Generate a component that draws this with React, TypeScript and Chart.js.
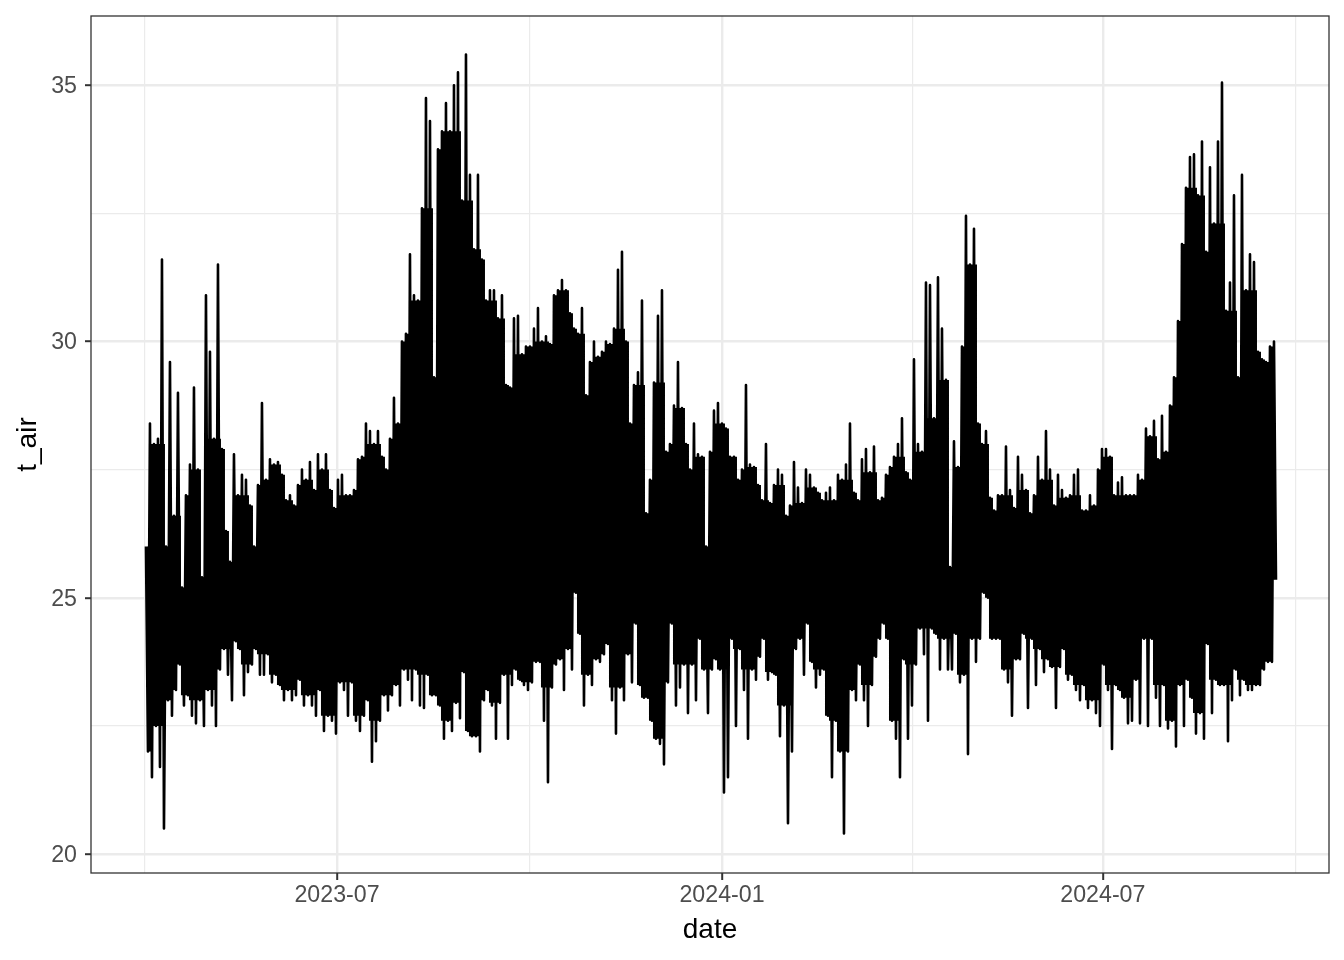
import React, { useEffect, useRef } from "react";
import { Chart, registerables } from "chart.js";

Chart.register(...registerables);

// Upper excursions of t_air
const peaksSpring2023 = [26.0,28.4,28.0,28.1,31.6,26.0,29.6,26.6,29.0,25.2,27.0,27.6,29.1,27.5,25.4,30.9,29.8,28.1,31.5,27.9,26.3,25.7,27.8,27.0,27.4,27.3,26.8,26.0,27.2,28.8,27.3,27.7,27.6,27.65,27.4,26.9,27.0,26.8,27.2,27.5,27.3,27.65,27.1,27.8,27.5,27.8,27.1,26.75];
const peaksSummer2023 = [27.3,27.4,27.0,27.0,27.1,27.7,27.75,28.4,28.25,28.0,28.25,27.75,27.5,28.1,28.9,28.4,30.0,30.15,31.7,30.9,30.8,32.6,34.75,34.3,29.3,33.75,34.1,34.65,34.1,35.0,35.25,32.75,35.6,33.25,31.8,33.25,31.6,30.8,31.0,31.0,30.45,30.9,29.15,29.1,30.45,30.5,29.75,29.9];
const peaksAutumn2023 = [29.9,30.25,30.65,30.0,30.1,29.95,30.9,31.0,31.2,31.0,30.55,30.25,30.15,30.65,28.95,29.6,30.0,29.7,29.8,30.0,29.95,30.25,31.4,31.75,30.0,28.4,29.15,29.4,30.8,26.65,27.3,29.2,30.5,31.0,27.85,28.0,28.75,29.6,28.7,28.0,27.5,28.4,27.8,27.75,26.0,27.85,28.65,28.8,28.4];
const peaksWinter2024 = [28.3,27.75,27.75,27.3,27.5,29.15,27.6,27.55,27.2,26.9,28.0,26.85,27.2,27.5,27.4,26.6,26.8,27.65,27.15,26.85,27.5,27.4,27.15,27.05,26.9,27.05,27.15,26.9,27.4,27.3,27.6,28.4,27.05,26.9,27.7,27.9,27.45,27.95,26.9,26.95,27.4,27.55,27.75,28.0,28.5,27.45,27.3,29.65,28.0];
const peaksSpring2024 = [27.85,31.15,31.1,28.5,31.25,30.25,29.25,25.6,28.05,27.55,29.9,32.45,31.5,32.2,28.4,28.0,28.25,26.95,26.7,27.0,27.0,27.95,27.1,26.75,27.75,27.4,27.1,26.65,27.0,27.75,27.3,28.25,27.5,26.8,27.4,27.1,26.95,27.0,27.4,27.5,26.7,26.7,27.0,26.8,27.5];
const peaksSummer2024 = [27.9,27.9,27.75,27.0,27.25,27.35,27.0,27.0,27.0,27.4,27.3,28.3,28.15,28.45,27.7,28.55,27.85,28.75,29.3,30.4,31.9,33.0,33.6,33.65,32.85,33.9,31.75,33.4,32.3,33.9,35.05,30.6,31.15,32.85,29.3,33.25,31.0,31.7,31.55,29.8,29.65,29.6,29.9,30.0];

// Lower excursions of t_air
const troughsSpring2023 = [22.0,21.5,22.5,21.7,20.5,23.0,22.7,23.2,23.7,22.9,23.1,22.7,22.55,23.0,22.5,23.2,22.9,22.5,23.6,24.0,23.5,23.0,24.15,24.0,23.1,23.55,23.7,24.0,23.5,23.5,23.9,23.35,23.5,23.3,23.0,23.2,23.0,23.1,23.4,22.9,23.1,22.9,22.7,23.2,22.4,22.7,22.6,22.35];
const troughsSummer2023 = [23.35,23.2,22.7,23.35,22.6,22.4,22.7,23.0,21.8,22.2,22.6,23.1,22.8,23.1,23.3,22.9,23.6,23.4,23.0,23.6,22.9,22.85,23.5,23.1,23.1,22.9,22.25,22.6,22.4,22.95,22.65,23.55,22.4,22.3,22.3,22.0,23.0,23.2,22.9,22.25,22.95,23.5,22.25,23.3,23.6,23.4,23.3,23.2];
const troughsAutumn2023 = [23.35,23.75,23.75,22.6,21.4,23.25,23.7,23.8,23.2,24.0,23.6,25.1,24.3,22.9,23.5,23.3,23.8,23.75,23.9,24.1,23.0,22.35,23.25,23.0,23.9,23.35,24.5,23.3,23.05,23.05,22.6,22.25,22.15,21.75,23.35,24.5,22.9,23.25,23.7,22.75,23.7,23.0,24.2,23.6,22.75,23.6,23.8,23.6,21.2];
const troughsWinter2024 = [21.5,24.2,22.5,24.0,23.2,22.25,23.6,23.4,23.85,24.2,23.4,23.55,23.5,22.3,22.9,20.6,22.0,24.0,24.2,23.5,24.5,23.75,23.25,23.5,23.6,22.7,21.5,22.6,22.0,20.4,22.0,23.2,23.0,23.7,23.0,22.5,23.3,23.85,24.2,24.5,24.2,22.6,22.25,21.5,23.8,22.25,22.9,23.7,24.4];
const troughsSpring2024 = [23.9,22.6,24.4,24.3,23.6,24.2,23.6,23.6,24.3,23.35,23.5,21.95,24.2,23.75,24.2,25.1,25.0,24.2,24.2,24.2,23.6,23.35,22.7,23.8,23.8,24.3,22.85,24.2,23.3,24.0,23.55,23.8,23.65,22.85,23.65,24.0,23.4,23.5,23.2,23.0,23.3,22.85,23.0,22.75,22.5];
const troughsSummer2024 = [23.7,23.2,22.05,23.3,23.2,23.05,22.55,22.6,23.4,22.55,24.2,22.5,24.2,23.05,22.5,23.3,22.45,22.6,22.1,23.3,22.5,23.4,23.05,22.35,22.75,22.25,24.1,22.75,23.4,23.3,23.3,22.2,23.0,23.6,23.1,23.4,23.2,23.2,23.3,23.3,23.6,23.75,23.75,25.35];

const peaks = [...peaksSpring2023, ...peaksSummer2023, ...peaksAutumn2023, ...peaksWinter2024, ...peaksSpring2024, ...peaksSummer2024];
const troughs = [...troughsSpring2023, ...troughsSummer2023, ...troughsAutumn2023, ...troughsWinter2024, ...troughsSpring2024, ...troughsSummer2024];

const DAY = 86400000;
const firstSample = Date.UTC(2023, 2, 31, 17);
const sampleStep = 0.9558 * DAY;

const majorDates = ["2023-07-01", "2024-01-01", "2024-07-01"];
const minorDates = ["2023-03-31", "2023-10-01", "2024-04-01", "2024-10-01"];
const majorTemps = [20, 25, 30, 35];
const minorTemps = [22.5, 27.5, 32.5];

const toMs = (d: string) => Date.parse(d + "T00:00:00Z");
const n = Math.min(peaks.length, troughs.length);
const at = (a: number[], i: number) => a[Math.min(n - 1, Math.max(0, i))];
const points: { x: number; y: number }[] = [];
const solidTop: { x: number; y: number }[] = [];
const solidBottom: { x: number; y: number }[] = [];
for (let i = 0; i < n; i++) {
  points.push({ x: firstSample + 2 * i * sampleStep, y: peaks[i] });
  points.push({ x: firstSample + (2 * i + 1) * sampleStep, y: troughs[i] });
  // The black mass under the hourly line: single strokes stay thin, so a
  // column is only solid up to what three consecutive columns all reach.
  const px = firstSample + (2 * i + 0.5) * sampleStep;
  const tops = [-2, -1, 0].map((o) => Math.min(at(peaks, i + o), at(peaks, i + o + 1), at(peaks, i + o + 2)));
  const bottoms = [-2, -1, 0].map((o) => Math.max(at(troughs, i + o), at(troughs, i + o + 1), at(troughs, i + o + 2)));
  solidTop.push({ x: px, y: Math.max(...tops) });
  solidBottom.push({ x: px, y: Math.min(...bottoms) });
}

const FONT = "'Liberation Sans', Arial, sans-serif";
const TICK_TEXT = "#4D4D4D";
const DARK = "#333333";
const GRID = "#EBEBEB";

const panelBorder = {
  id: "panelBorder",
  afterDraw(chart: any) {
    const { left, top, width, height } = chart.chartArea;
    const c = chart.ctx;
    c.save();
    c.strokeStyle = DARK;
    c.lineWidth = 1.3;
    c.strokeRect(left, top, width, height);
    c.restore();
  },
};

export default function App() {
  const ref = useRef<HTMLCanvasElement>(null);
  useEffect(() => {
    document.body.style.margin = "0";
    document.body.style.background = "#fff";
    const julyFirst = toMs("2023-07-01");
    const majorX = majorDates.map(toMs);
    const minorX = minorDates.map(toMs);
    const chart = new Chart(ref.current!, {
      type: "line",
      data: {
        datasets: [
          {
            data: points,
            borderColor: "#000000",
            borderWidth: 2.6,
            borderJoinStyle: "round",
            borderCapStyle: "butt",
            pointRadius: 0,
            tension: 0,
            fill: false,
          },
          {
            data: solidTop,
            borderWidth: 0,
            borderColor: "rgba(0,0,0,0)",
            backgroundColor: "#000000",
            pointRadius: 0,
            stepped: "middle",
            fill: "+1",
          },
          {
            data: solidBottom,
            borderWidth: 0,
            borderColor: "rgba(0,0,0,0)",
            pointRadius: 0,
            stepped: "middle",
            fill: false,
          },
        ],
      },
      plugins: [panelBorder],
      options: {
        animation: false,
        responsive: false,
        parsing: false,
        normalized: true,
        layout: { padding: { left: 0, top: 16, right: 15, bottom: 0 } },
        plugins: { legend: { display: false }, tooltip: { enabled: false }, title: { display: false } },
        scales: {
          x: {
            type: "linear",
            min: julyFirst - 117.56 * DAY,
            max: julyFirst + 474.07 * DAY,
            afterBuildTicks(scale: any) {
              scale.ticks = [...majorX, ...minorX].sort((a, b) => a - b).map((value) => ({ value }));
            },
            afterFit(scale: any) {
              scale.height = 87;
              scale.paddingLeft = 0;
              scale.paddingRight = 0;
            },
            border: { display: false },
            grid: {
              color: GRID,
              lineWidth: (c: any) => (majorX.includes(c.tick?.value) ? 2.4 : 1.2),
              tickColor: (c: any) => (majorX.includes(c.tick?.value) ? DARK : "rgba(0,0,0,0)"),
              tickWidth: 2,
              tickLength: 7,
            },
            ticks: {
              autoSkip: false,
              maxRotation: 0,
              padding: 2,
              color: TICK_TEXT,
              font: { family: FONT, size: 23.2 },
              callback: (v: any) =>
                majorX.includes(v) ? new Date(v).toISOString().slice(0, 7) : "",
            },
            title: {
              display: true,
              text: "date",
              color: "#000000",
              font: { family: FONT, size: 28 },
              padding: { top: 0, bottom: 13 },
            },
          },
          y: {
            type: "linear",
            min: 19.63,
            max: 36.35,
            afterBuildTicks(scale: any) {
              scale.ticks = [...majorTemps, ...minorTemps].sort((a, b) => a - b).map((value) => ({ value }));
            },
            afterFit(scale: any) {
              scale.width = 91;
              scale.paddingTop = 0;
              scale.paddingBottom = 0;
            },
            border: { display: false },
            grid: {
              color: GRID,
              lineWidth: (c: any) => (majorTemps.includes(c.tick?.value) ? 2.4 : 1.2),
              tickColor: (c: any) => (majorTemps.includes(c.tick?.value) ? DARK : "rgba(0,0,0,0)"),
              tickWidth: 2,
              tickLength: 6,
            },
            ticks: {
              autoSkip: false,
              padding: 8,
              labelOffset: 1.5,
              color: TICK_TEXT,
              font: { family: FONT, size: 23.2 },
              callback: (v: any) => (majorTemps.includes(v) ? String(v) : ""),
            },
            title: {
              display: true,
              text: "t_air",
              color: "#000000",
              font: { family: FONT, size: 28 },
              padding: { top: 11, bottom: 0 },
            },
          },
        },
      },
    } as any);
    return () => chart.destroy();
  }, []);
  return <canvas ref={ref} width={1344} height={960} style={{ display: "block" }} />;
}
